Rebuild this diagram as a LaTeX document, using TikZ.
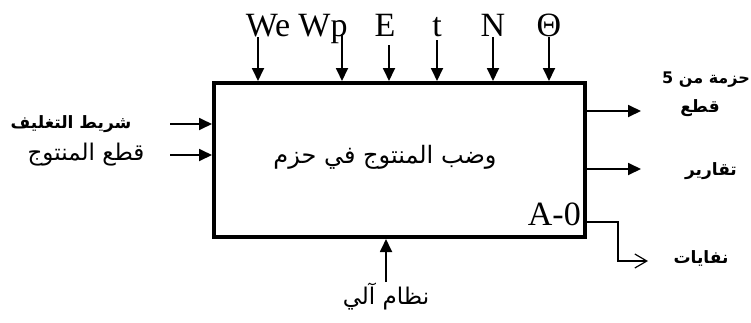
\documentclass[tikz,border=0pt]{standalone}
\usepackage{fontspec}
\setmainfont{Liberation Serif}
\newfontfamily\arabicfont[Script=Arabic]{DejaVu Sans}
\TeXXeTstate=1
\usetikzlibrary{arrows.meta}
\tikzset{
  flow/.style={line width=1.8pt,-{Triangle[length=13pt,width=12pt]}},
  openflow/.style={line width=1.2pt,-{Straight Barb[length=12pt,width=14pt,line width=1.2pt]}},
  lat/.style={font=\fontsize{34}{36}\selectfont,inner sep=0pt,anchor=base},
  arb/.style={font=\arabicfont\fontsize{22}{26}\selectfont,inner sep=0pt},
  arbb/.style={font=\arabicfont\bfseries\fontsize{17}{20}\selectfont,inner sep=0pt,align=center},
}
\begin{document}
\begin{tikzpicture}[x=1pt,y=-1pt]
\useasboundingbox (0,0) rectangle (751,322);
\node[draw,line width=4pt,minimum width=371pt,minimum height=154pt,inner sep=0pt] (box) at (399.5,160) {};
\node[font=\arabicfont\fontsize{24}{28}\selectfont,inner sep=0pt] (title) at (385,157) {\beginR وضب المنتوج في حزم\endR};
\node[lat,anchor=base east] (a0) at (581,225) {A-0};
% top controls
\node[lat] (we) at (268,36) {We};
\node[lat] (wp) at (323,36) {Wp};
\node[lat] (e) at (385,36) {E};
\node[lat] (t) at (437,36) {t};
\node[lat] (n) at (493,36) {N};
\node[lat] (th) at (549,36) {Θ};
\coordinate (cwe) at (258,37);
\coordinate (cwp) at (342,34);
\coordinate (ce) at (389,45);
\coordinate (ct) at (437,40);
\coordinate (cn) at (493,37);
\coordinate (cth) at (549,37);
\foreach \c in {cwe,cwp,ce,ct,cn,cth}{\draw[flow] (\c) -- (\c |- box.north);}
% left inputs
\node[arbb] (in1) at (71,124) {\beginR شريط التغليف\endR};
\node[arb,font=\arabicfont\fontsize{23}{26}\selectfont] (in2) at (86,155) {\beginR قطع المنتوج\endR};
\coordinate (cin1) at (170,124);
\coordinate (cin2) at (170,155);
\draw[flow] (cin1) -- (cin1 -| box.west);
\draw[flow] (cin2) -- (cin2 -| box.west);
% bottom mechanism
\node[arb,font=\arabicfont\fontsize{23}{26}\selectfont] (mech) at (386,297) {\beginR نظام آلي\endR};
\coordinate (cm) at (386,282);
\draw[flow] (cm) -- (cm |- box.south);
% right outputs
\node[arbb,font=\arabicfont\bfseries\fontsize{16}{20}\selectfont] (out1a) at (706,80) {\beginR حزمة من 5\endR};
\node[arbb] (out1b) at (700,108) {\beginR قطع\endR};
\node[arbb] (out2) at (711,171) {\beginR تقارير\endR};
\node[arbb] (out3) at (701,258) {\beginR نفايات\endR};
\coordinate (co1) at (641,111);
\coordinate (co2) at (641,169);
\coordinate (cw) at (618,222);
\coordinate (co3) at (648,261);
\draw[flow] (co1 -| box.east) -- (co1);
\draw[flow] (co2 -| box.east) -- (co2);
\draw[openflow] (cw -| box.east) -- (cw) |- (co3);
\end{tikzpicture}
\end{document}
